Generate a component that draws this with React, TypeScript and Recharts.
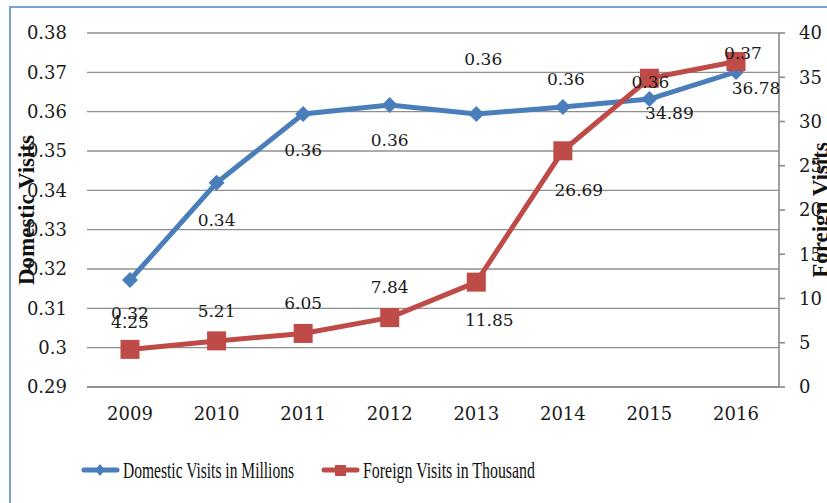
import React from "react";
import { LineChart, Line, XAxis, YAxis, CartesianGrid, LabelList, Legend } from "recharts";

const years = ["2009", "2010", "2011", "2012", "2013", "2014", "2015", "2016"];
const domesticVisits = [0.3172, 0.3419, 0.3594, 0.3617, 0.3594, 0.3612, 0.3632, 0.3701];
const foreignVisits = [4.25, 5.21, 6.05, 7.84, 11.85, 26.69, 34.89, 36.78];
const leftTicks = [0.29, 0.3, 0.31, 0.32, 0.33, 0.34, 0.35, 0.36, 0.37, 0.38];
const rightTicks = [0, 5, 10, 15, 20, 25, 30, 35, 40];
const domesticName = "Domestic Visits in Millions";
const foreignName = "Foreign Visits in Thousand";

const data = years.map((y, i) => ({ year: y, domestic: domesticVisits[i], foreign: foreignVisits[i] }));

// layout constants (label placement around markers)
const DOM_DX = [0, 0, 0, 0, 7, 3, 1, 7];
const DOM_DY = [33, 37, 36, 35, -55, -28, -17, -19];
const FOR_DX = [0, 0, 0, 0, 13, 16, 20, 20];
const FOR_DY = [-27, -30, -30, -31, 38, 39, 35, 27];

const BLUE = "#4a7ebb";
const RED = "#be4b48";
const TICK_FONT = "'DejaVu Serif', serif";
const LEGEND_FONT = "'Liberation Serif', 'Times New Roman', serif";

const makeLabel = (dxs: number[], dys: number[]) => (props: any) => {
  const { x, y, value, index } = props;
  return (
    <text
      x={x + dxs[index]}
      y={y + dys[index]}
      textAnchor="middle"
      dominantBaseline="central"
      fontFamily={TICK_FONT}
      fontSize={17}
      fill="#1a1a1a"
    >
      {Number(value).toFixed(2)}
    </text>
  );
};

const diamondDot = (props: any) => {
  const { cx, cy, index } = props;
  const r = 8;
  return <path key={"d" + index} d={`M${cx},${cy - r}L${cx + r},${cy}L${cx},${cy + r}L${cx - r},${cy}Z`} fill={BLUE} />;
};
const squareDot = (props: any) => {
  const { cx, cy, index } = props;
  const s = 19;
  return <rect key={"s" + index} x={cx - s / 2} y={cy - s / 2} width={s} height={s} fill={RED} />;
};

const LegendContent = () => (
  <svg width={827} height={30} style={{ display: "block" }}>
    <g>
      <line x1={84} y1={15} x2={117} y2={15} stroke={BLUE} strokeWidth={5} strokeLinecap="round" />
      <path d="M100,9L105,15L100,21L95,15Z" fill={BLUE} />
      <text x={123} y={15} dominantBaseline="central" fontFamily={LEGEND_FONT} fontSize={24} fill="#111" textLength={171} lengthAdjust="spacingAndGlyphs">
        {domesticName}
      </text>
    </g>
    <g>
      <line x1={324} y1={15} x2={357} y2={15} stroke={RED} strokeWidth={5} strokeLinecap="round" />
      <rect x={335} y={10} width={11} height={11} fill={RED} />
      <text x={363} y={15} dominantBaseline="central" fontFamily={LEGEND_FONT} fontSize={24} fill="#111" textLength={172} lengthAdjust="spacingAndGlyphs">
        {foreignName}
      </text>
    </g>
  </svg>
);

const leftTitle = (props: any) => {
  const vb = props.viewBox || { x: 0, y: 33, width: 87, height: 354 };
  const cx = vb.x + 26;
  const cy = vb.y + vb.height / 2;
  return (
    <text x={cx} y={cy} transform={`rotate(-90 ${cx} ${cy})`} textAnchor="middle" dominantBaseline="central" fontFamily={LEGEND_FONT} fontWeight="bold" fontSize={23} fill="#111">
      Domestic Visits
    </text>
  );
};
const rightTitle = (props: any) => {
  const vb = props.viewBox || { x: 779, y: 33, width: 48, height: 354 };
  const cx = vb.x + 41;
  const cy = vb.y + vb.height / 2;
  return (
    <text x={cx} y={cy} transform={`rotate(-90 ${cx} ${cy})`} textAnchor="middle" dominantBaseline="central" fontFamily={LEGEND_FONT} fontWeight="bold" fontSize={23} fill="#111">
      Foreign Visits
    </text>
  );
};

export default function App() {
  return (
    <div style={{ position: "absolute", left: 0, top: 0, width: 827, height: 503, background: "#fff", overflow: "hidden" }}>
      <LineChart width={827} height={503} data={data} margin={{ top: 33, right: 0, left: 0, bottom: 56 }}>
        <CartesianGrid yAxisId="left" vertical={false} stroke="#8f8f8f" strokeWidth={1.4} />
        <XAxis
          dataKey="year"
          height={30}
          padding={{ left: 43, right: 43 }}
          tickLine={false}
          tickSize={0}
          tickMargin={20}
          axisLine={{ stroke: "#8a8a8a", strokeWidth: 1.6 }}
          tick={{ fontFamily: TICK_FONT, fontSize: 18, fill: "#1a1a1a" }}
          interval={0}
        />
        <YAxis
          yAxisId="left"
          orientation="left"
          width={87}
          domain={[0.29, 0.38]}
          ticks={leftTicks}
          tickFormatter={(v: number) => String(v)}
          axisLine={false}
          tickLine={false}
          tickSize={0}
          tickMargin={20}
          tick={{ fontFamily: TICK_FONT, fontSize: 18, fill: "#1a1a1a" }}
          allowDataOverflow
          label={{ content: leftTitle }}
        />
        <YAxis
          yAxisId="right"
          orientation="right"
          width={48}
          domain={[0, 40]}
          ticks={rightTicks}
          axisLine={{ stroke: "#8a8a8a", strokeWidth: 1.6 }}
          tickLine={{ stroke: "#8a8a8a", strokeWidth: 1.6 }}
          tickSize={6}
          tickMargin={14}
          tick={{ fontFamily: TICK_FONT, fontSize: 18, fill: "#1a1a1a", textAnchor: "start" }}
          label={{ content: rightTitle }}
        />
        <Line yAxisId="left" dataKey="domestic" name={domesticName} stroke={BLUE} strokeWidth={5} dot={diamondDot} activeDot={false} isAnimationActive={false} />
        <Line yAxisId="right" dataKey="foreign" name={foreignName} stroke={RED} strokeWidth={5} dot={squareDot} activeDot={false} isAnimationActive={false} />
        <Line yAxisId="left" dataKey="domestic" stroke="none" dot={false} activeDot={false} legendType="none" isAnimationActive={false}>
          <LabelList dataKey="domestic" content={makeLabel(DOM_DX, DOM_DY)} />
        </Line>
        <Line yAxisId="right" dataKey="foreign" stroke="none" dot={false} activeDot={false} legendType="none" isAnimationActive={false}>
          <LabelList dataKey="foreign" content={makeLabel(FOR_DX, FOR_DY)} />
        </Line>
        <Legend verticalAlign="bottom" height={30} content={LegendContent} wrapperStyle={{ bottom: 18, left: 0, width: 827 }} />
      </LineChart>
      <div style={{ position: "absolute", left: 9, top: 6, width: 830, height: 510, borderLeft: "2px solid #7aa2d4", borderTop: "2px solid #7aa2d4", pointerEvents: "none" }} />
    </div>
  );
}
